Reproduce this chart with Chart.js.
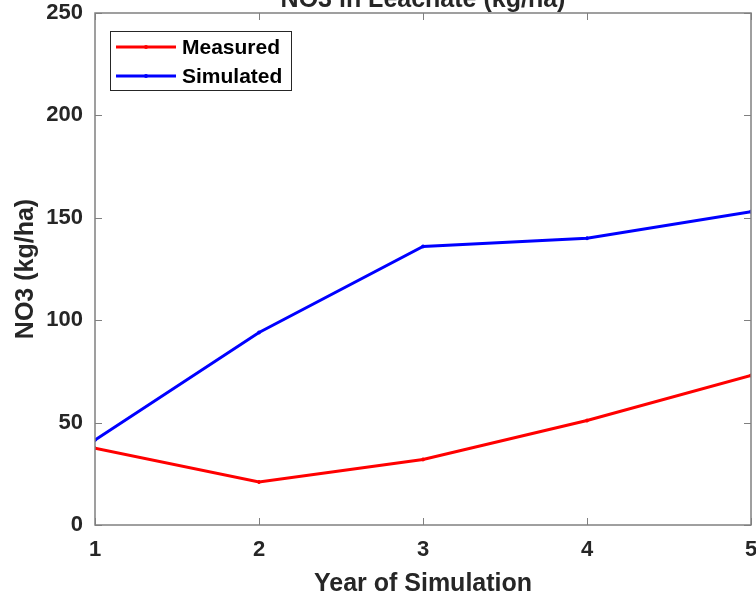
<!DOCTYPE html>
<html>
<head>
<meta charset="utf-8">
<script src="https://cdn.jsdelivr.net/npm/chart.js@4"></script>
<style>
  html, body { margin: 0; padding: 0; background: #fff; }
  #wrap { width: 756px; height: 603px; }
</style>
</head>
<body>
<div id="wrap"><canvas id="no3"></canvas></div>
<script>
// years of simulation and NO3 leaching (kg/ha)
const years = [1, 2, 3, 4, 5];
const measured = [37.5, 21, 32, 51, 73];
const simulated = [41.5, 94, 136, 140, 153];
const yTicks = [0, 50, 100, 150, 200, 250];
const chartTitle = 'NO3 in Leachate (kg/ha)';

const FONT = '"Liberation Sans", Arial, Helvetica, sans-serif';
const AXIS = '#808080';
const TEXT = '#262626';

const toPoints = (vals) => vals.map((v, i) => ({ x: years[i], y: v }));

// box around the axes, inward ticks, title and legend like a matlab figure
const matlabFrame = {
  id: 'matlabFrame',
  afterDatasetsDraw(chart) {
    const { ctx, chartArea: a, scales } = chart;
    ctx.save();
    ctx.strokeStyle = AXIS;
    ctx.lineWidth = 1.5;
    ctx.strokeRect(a.left, a.top, a.right - a.left, a.bottom - a.top);
    const tl = 7;
    ctx.beginPath();
    years.forEach(v => {
      const x = Math.round(scales.x.getPixelForValue(v)) + 0.5;
      ctx.moveTo(x, a.bottom); ctx.lineTo(x, a.bottom - tl);
      ctx.moveTo(x, a.top); ctx.lineTo(x, a.top + tl);
    });
    yTicks.forEach(v => {
      const y = Math.round(scales.y.getPixelForValue(v)) + 0.5;
      ctx.moveTo(a.left, y); ctx.lineTo(a.left + tl, y);
      ctx.moveTo(a.right, y); ctx.lineTo(a.right - tl, y);
    });
    ctx.lineWidth = 1;
    ctx.stroke();

    // title sits just above the top border
    ctx.fillStyle = TEXT;
    ctx.font = 'bold 25px ' + FONT;
    ctx.textAlign = 'center';
    ctx.textBaseline = 'alphabetic';
    ctx.fillText(chartTitle, (a.left + a.right) / 2, a.top - 6);

    // legend box
    const lx = 110, ly = 31, lw = 181, lh = 59;
    ctx.fillStyle = '#fff';
    ctx.fillRect(lx, ly, lw, lh);
    ctx.strokeStyle = TEXT;
    ctx.lineWidth = 1;
    ctx.strokeRect(lx + 0.5, ly + 0.5, lw, lh);
    ctx.font = 'bold 21px ' + FONT;
    ctx.textAlign = 'left';
    ctx.textBaseline = 'middle';
    chart.data.datasets.forEach((ds, i) => {
      const y = ly + 16 + i * 29;
      ctx.strokeStyle = ds.borderColor;
      ctx.lineWidth = 3;
      ctx.beginPath();
      ctx.moveTo(lx + 6, y); ctx.lineTo(lx + 66, y);
      ctx.stroke();
      ctx.fillStyle = ds.borderColor;
      ctx.beginPath();
      ctx.arc(lx + 36, y, 2, 0, Math.PI * 2);
      ctx.fill();
      ctx.fillStyle = '#000';
      ctx.fillText(ds.label, lx + 72, y + 1);
    });
    ctx.restore();
  }
};

new Chart(document.getElementById('no3'), {
  type: 'line',
  data: {
    datasets: [
      { label: 'Measured', data: toPoints(measured), borderColor: '#ff0000', backgroundColor: '#ff0000' },
      { label: 'Simulated', data: toPoints(simulated), borderColor: '#0000ff', backgroundColor: '#0000ff' }
    ]
  },
  options: {
    responsive: true,
    maintainAspectRatio: false,
    animation: false,
    layout: { padding: { top: 13, right: 5, left: 0, bottom: 0 } },
    elements: {
      line: { borderWidth: 3, tension: 0 },
      point: { radius: 1.5, hoverRadius: 1.5 }
    },
    plugins: {
      legend: { display: false },
      title: { display: false },
      tooltip: { enabled: false }
    },
    scales: {
      x: {
        type: 'linear',
        min: 1,
        max: 5,
        grid: { display: false, drawTicks: false },
        border: { display: false },
        afterBuildTicks: (s) => { s.ticks = years.map(v => ({ value: v })); },
        ticks: { color: TEXT, padding: 12, font: { family: FONT, size: 22, weight: 'bold' }, maxRotation: 0 },
        title: { display: true, text: 'Year of Simulation', color: TEXT, padding: { top: 0, bottom: 4 },
                 font: { family: FONT, size: 25, weight: 'bold' } },
        afterFit: (s) => { s.height = 78; s.paddingLeft = 0; s.paddingRight = 0; }
      },
      y: {
        min: 0,
        max: 250,
        grid: { display: false, drawTicks: false },
        border: { display: false },
        afterBuildTicks: (s) => { s.ticks = yTicks.map(v => ({ value: v })); },
        ticks: { color: TEXT, padding: 12, font: { family: FONT, size: 22, weight: 'bold' } },
        title: { display: true, text: 'NO3 (kg/ha)', color: TEXT, padding: { top: 11, bottom: 0 },
                 font: { family: FONT, size: 25, weight: 'bold' } },
        afterFit: (s) => { s.width = 95; s.paddingTop = 0; s.paddingBottom = 0; }
      }
    }
  },
  plugins: [matlabFrame]
});
</script>
</body>
</html>
